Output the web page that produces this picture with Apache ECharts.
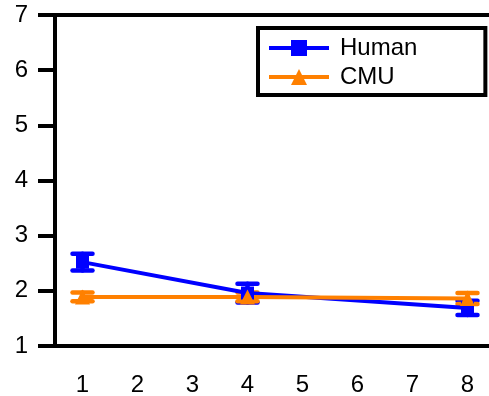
<!DOCTYPE html>
<html>
<head>
<meta charset="utf-8">
<script src="https://cdn.jsdelivr.net/npm/echarts@6/dist/echarts.min.js"></script>
<style>
  html, body { margin: 0; padding: 0; background: #fff; }
  #chart { width: 489px; height: 396px; }
</style>
</head>
<body>
<div id="chart"></div>
<script>
// Axis categories and measured points
const categories = ['1', '2', '3', '4', '5', '6', '7', '8'];
const yTicks = [1, 2, 3, 4, 5, 6, 7];
const xPoints = ['1', '4', '8'];
const humanMean = [2.52, 1.96, 1.69];
const humanErr = [0.15, 0.17, 0.13];
const cmuMean = [1.89, 1.89, 1.86];
const cmuErr = [0.08, 0.08, 0.10];

const BLUE = '#0000ff';
const ORANGE = '#ff8000';
const FONT = 'Liberation Sans, Arial, sans-serif';

function lineData(mean) {
  return xPoints.map((x, i) => [categories.indexOf(x), mean[i]]);
}
function errData(mean, err) {
  return xPoints.map((x, i) => [categories.indexOf(x), mean[i] - err[i], mean[i] + err[i]]);
}
// Vertical error bar with caps, positioned through the axis scales
function errorSeries(name, mean, err, color) {
  return {
    type: 'custom',
    name: name,
    data: errData(mean, err),
    encode: { x: 0, y: [1, 2] },
    silent: true,
    itemStyle: { color: color },
    renderItem: function (params, api) {
      const x = api.value(0);
      const lo = api.coord([x, api.value(1)]);
      const hi = api.coord([x, api.value(2)]);
      const half = 10;
      const style = { stroke: color, lineWidth: 4.5, lineCap: 'round' };
      return {
        type: 'group',
        children: [
          { type: 'line', shape: { x1: lo[0], y1: lo[1], x2: hi[0], y2: hi[1] }, style: style },
          { type: 'line', shape: { x1: hi[0] - half, y1: hi[1], x2: hi[0] + half, y2: hi[1] }, style: style },
          { type: 'line', shape: { x1: lo[0] - half, y1: lo[1], x2: lo[0] + half, y2: lo[1] }, style: style }
        ]
      };
    }
  };
}

const chart = echarts.init(document.getElementById('chart'), null, { renderer: 'canvas' });
chart.setOption({
  animation: false,
  backgroundColor: '#fff',
  grid: {
    left: 55, top: 15, bottom: 50, width: 440,
    outerBoundsMode: 'none',
    show: true, borderColor: '#000', borderWidth: 4, backgroundColor: 'transparent'
  },
  legend: {
    orient: 'vertical',
    left: 258, top: 28,
    padding: [8, 68, 6, 9],
    itemGap: 5,
    itemWidth: 60, itemHeight: 20,
    borderColor: '#000', borderWidth: 4,
    lineStyle: { width: 4 },
    textStyle: { fontFamily: FONT, fontSize: 24, color: '#000', padding: [0, 0, 0, 6] },
    data: ['Human', 'CMU']
  },
  xAxis: {
    type: 'category',
    data: categories,
    boundaryGap: true,
    axisLine: { lineStyle: { color: '#000', width: 4 } },
    axisTick: { alignWithLabel: true, length: 14, lineStyle: { color: '#000', width: 4 } },
    axisLabel: { color: '#000', fontFamily: FONT, fontSize: 24, margin: 27 },
    splitLine: { show: false }
  },
  yAxis: {
    type: 'value',
    min: yTicks[0], max: yTicks[yTicks.length - 1], interval: 1,
    axisLine: { show: true, lineStyle: { color: '#000', width: 4 } },
    axisTick: { show: true, length: 17, lineStyle: { color: '#000', width: 4 } },
    axisLabel: { color: '#000', fontFamily: FONT, fontSize: 24, margin: 27 },
    splitLine: { show: false }
  },
  series: [
    errorSeries('Human error', humanMean, humanErr, BLUE),
    {
      type: 'line', name: 'Human',
      data: lineData(humanMean),
      symbol: 'rect', symbolSize: 13,
      itemStyle: { color: BLUE },
      lineStyle: { color: BLUE, width: 4 }
    },
    errorSeries('CMU error', cmuMean, cmuErr, ORANGE),
    {
      type: 'line', name: 'CMU',
      data: lineData(cmuMean),
      symbol: 'triangle', symbolSize: 15,
      itemStyle: { color: ORANGE },
      lineStyle: { color: ORANGE, width: 4 }
    }
  ]
});
</script>
</body>
</html>
